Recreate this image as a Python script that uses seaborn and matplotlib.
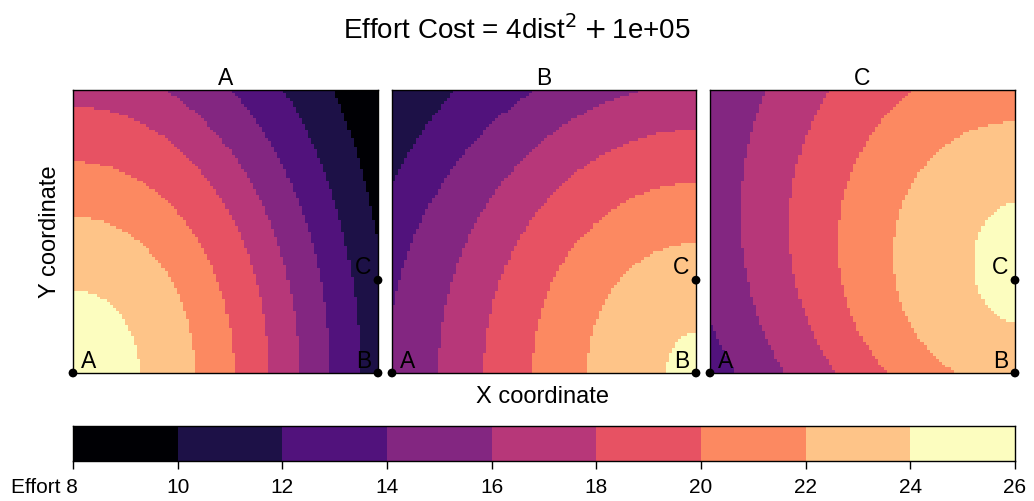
import numpy as np
import matplotlib
matplotlib.use("Agg")
import matplotlib.pyplot as plt
from matplotlib.colors import ListedColormap
from matplotlib.transforms import ScaledTranslation
import seaborn as sns

sns.set_theme(style="white")
plt.rcParams["font.family"] = ["Liberation Sans", "DejaVu Sans"]
plt.rcParams.update({"text.color": "black", "axes.labelcolor": "black",
                     "xtick.color": "black", "ytick.color": "black"})

# ── data ───────────────────────────────────────────────────────────────────
patches = ["A", "B", "C"]
patch_x = [0.0, 1.0, 1.0]
patch_y = [0.0, 0.0, 0.328]

breaks = [8, 10, 12, 14, 16, 18, 20, 22, 24, 26]

# ring boundaries (effort level of the inner side), measured as ellipses
# in panel fractions: rx along x, ry along y, cy = ring centre height
ring_levels = [24, 22, 20, 18, 16, 14, 12, 10]

rx_A = [0.218, 0.399, 0.527, 0.641, 0.740, 0.842, 0.941, 1.035]
ry_A = [0.293, 0.552, 0.747, 0.941, 1.094, 1.268, 1.471, 1.773]
cy_A = [0.0, 0.0, 0.0, 0.0, 0.0, 0.0, 0.0, 0.0]

rx_B = [0.099, 0.359, 0.538, 0.697, 0.848, 1.017, 1.137]
ry_B = [0.141, 0.459, 0.671, 0.859, 1.020, 1.172, 1.395]
cy_B = [0.0, 0.0, 0.0, 0.0, 0.0, 0.0, 0.0]

rx_C = [0.135, 0.399, 0.580, 0.740, 0.901, 1.071]
ry_C = [0.210, 0.473, 0.661, 0.847, 1.033, 1.155]
cy_C = [0.390, 0.415, 0.458, 0.517, 0.562, 0.600]

rings = {"A": (rx_A, ry_A, cy_A), "B": (rx_B, ry_B, cy_B), "C": (rx_C, ry_C, cy_C)}

N = 100  # raster cells per side

def effort_grid(cx, rx, ry, cy):
    c = (np.arange(N) + 0.5) / N
    X, Y = np.meshgrid(c, c)
    Z = np.full((N, N), ring_levels[len(rx) - 1] - 1.0)
    for lev, a, b, y0 in reversed(list(zip(ring_levels, rx, ry, cy))):
        inside = ((X - cx) / a) ** 2 + ((Y - y0) / b) ** 2 <= 1
        Z[inside] = lev + 1
    return Z

cmap = ListedColormap(plt.get_cmap("magma")(np.linspace(0, 1, len(breaks) - 1)))

fig = plt.figure(figsize=(10.34, 5.01), dpi=100)
W, H = 1034, 501
lefts = [73, 392, 710]
widths = [305, 304, 305]

for i, name in enumerate(patches):
    ax = fig.add_axes([lefts[i] / W, (H - 373) / H, widths[i] / W, 283 / H])
    rx, ry, cy = rings[name]
    Z = effort_grid(patch_x[i], rx, ry, cy)
    sns.heatmap(Z, cmap=cmap, vmin=breaks[0], vmax=breaks[-1], cbar=False,
                xticklabels=False, yticklabels=False, ax=ax)
    ax.invert_yaxis()
    for s in ax.spines.values():
        s.set_visible(True)
        s.set_color("black")
        s.set_linewidth(1.0)
    ax.set_title(name, fontsize=16.5, pad=2, color="black")
    # patch locations
    px = np.array(patch_x) * N
    py = np.array(patch_y) * N
    sns.scatterplot(x=px, y=py, color="black", s=40, edgecolor="none",
                    clip_on=False, zorder=5, ax=ax, legend=False)
    offs = [(11, 8), (-10, 8), (-11, 9)]
    for lab, x, y, o in zip(patches, px, py, offs):
        ax.annotate(lab, (x, y), xytext=o, textcoords="offset points",
                    ha="center", va="center", fontsize=16.5, color="black",
                    annotation_clip=False)

# colour key
cax = fig.add_axes([73 / W, (H - 461) / H, 942 / W, 35 / H])
mids = np.array([[(a + b) / 2 for a, b in zip(breaks[:-1], breaks[1:])]])
sns.heatmap(mids, cmap=cmap, vmin=breaks[0], vmax=breaks[-1], cbar=False,
            xticklabels=False, yticklabels=False, ax=cax)
for s in cax.spines.values():
    s.set_visible(True)
    s.set_color("black")
    s.set_linewidth(1.0)
cax.set_xticks(np.arange(len(breaks)))
cax.set_xticklabels(["Effort 8"] + [str(b) for b in breaks[1:]], fontsize=15)
cax.tick_params(axis="x", bottom=True, length=6, width=1, color="black",
                labelcolor="black", pad=6)
first = cax.get_xticklabels()[0]
first.set_ha("right")
first.set_transform(first.get_transform() + ScaledTranslation(0.05, 0, fig.dpi_scale_trans))

fig.text(0.5, 1 - 30 / H, r"Effort Cost = 4dist$^2+$1e+05", ha="center",
         va="center", fontsize=20)
fig.text(50 / W, 1 - 232 / H, "Y coordinate", rotation=90, ha="center",
         va="center", fontsize=17)
fig.text(543 / W, 1 - 397 / H, "X coordinate", ha="center", va="center",
         fontsize=17)

fig.savefig("out.png", dpi=100)
